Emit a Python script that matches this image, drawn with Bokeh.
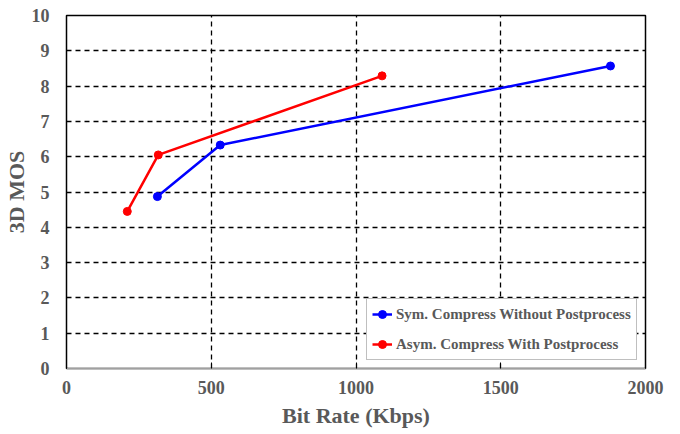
from bokeh.plotting import figure
from bokeh.models import Range1d, FixedTicker, Legend, LegendItem
from bokeh.embed import file_html
from bokeh.resources import INLINE

sym_x = [314, 531, 1879]
sym_y = [4.87, 6.33, 8.57]
asym_x = [210, 317, 1090]
asym_y = [4.45, 6.05, 8.29]
sym_label = "Sym. Compress Without Postprocess"
asym_label = "Asym. Compress With Postprocess"
x_ticks = [0, 500, 1000, 1500, 2000]
y_ticks = list(range(0, 11))

FONT = "'Liberation Serif', 'Times New Roman', serif"
TXT = "#595959"

p = figure(width=664, height=430, output_backend="svg", toolbar_location=None,
           x_range=Range1d(0, 2000), y_range=Range1d(0, 10),
           min_border_left=59, min_border_right=19, min_border_top=15, min_border_bottom=58)
p.background_fill_color = "white"
p.border_fill_color = "white"
p.outline_line_color = "black"
p.outline_line_width = 1.5

for ax in (p.xaxis[0], p.yaxis[0]):
    ax.major_label_text_font = FONT
    ax.major_label_text_font_style = "bold"
    ax.major_label_text_font_size = "18px"
    ax.major_label_text_color = TXT
    ax.axis_label_text_font = FONT
    ax.axis_label_text_font_style = "bold"
    ax.axis_label_text_font_size = "22px"
    ax.axis_label_text_color = TXT
    ax.minor_tick_line_color = None

p.xaxis.ticker = FixedTicker(ticks=x_ticks)
p.yaxis.ticker = FixedTicker(ticks=y_ticks)
p.xaxis.axis_label = "Bit Rate (Kbps)"
p.yaxis.axis_label = "3D MOS"
p.xaxis.axis_line_color = "#a0a0a0"
p.xaxis.major_tick_in = 6
p.xaxis.major_tick_out = 0
p.xaxis.major_tick_line_color = "black"
p.xaxis.major_label_standoff = 12
p.xaxis.axis_label_standoff = 6
p.yaxis.axis_line_color = "black"
p.yaxis.major_tick_line_color = None
p.yaxis.major_label_standoff = 11
p.yaxis.axis_label_standoff = 0

p.xgrid.ticker = FixedTicker(ticks=[500, 1000, 1500])
p.ygrid.ticker = FixedTicker(ticks=list(range(1, 10)))
for g in (p.xgrid[0], p.ygrid[0]):
    g.grid_line_color = "black"
    g.grid_line_dash = "5 4"
    g.grid_line_width = 1.3

l1 = p.line(sym_x, sym_y, line_color="blue", line_width=2.5)
c1 = p.scatter(sym_x, sym_y, size=8, fill_color="blue", line_color="blue")
l2 = p.line(asym_x, asym_y, line_color="red", line_width=2.5)
c2 = p.scatter(asym_x, asym_y, size=8, fill_color="red", line_color="red")

legend = Legend(items=[LegendItem(label=sym_label, renderers=[l1, c1]),
                       LegendItem(label=asym_label, renderers=[l2, c2])],
                location=(300, 8))
legend.label_text_font = FONT
legend.label_text_font_style = "bold"
legend.label_text_font_size = "15px"
legend.label_text_color = TXT
legend.label_height = 20
legend.glyph_height = 20
legend.border_line_color = "#808080"
legend.border_line_width = 1
legend.background_fill_color = "white"
legend.background_fill_alpha = 1
legend.glyph_width = 20
legend.spacing = 10
legend.padding = 5
legend.margin = 0
legend.label_standoff = 4
p.add_layout(legend, "center")

open("out.html", "w").write(file_html(p, INLINE))
